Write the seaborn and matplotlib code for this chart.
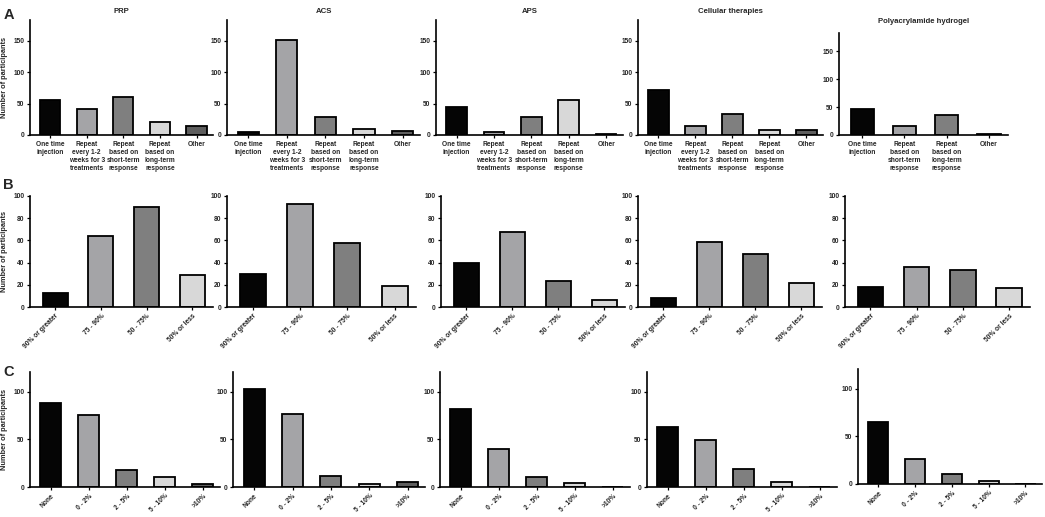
import matplotlib
matplotlib.use("Agg")
import matplotlib.pyplot as plt
import seaborn as sns
import pandas as pd

sns.set_theme(style="white")
plt.rcParams['font.family'] = ['Liberation Sans', 'DejaVu Sans']
plt.rcParams['font.weight'] = 'bold'

# ---------------- data ----------------
titles = ["PRP", "ACS", "APS", "Cellular therapies", "Polyacrylamide hydrogel"]

freq_cats = ["One time\ninjection", "Repeat\nevery 1-2\nweeks for 3\ntreatments",
             "Repeat\nbased on\nshort-term\nresponse", "Repeat\nbased on\nlong-term\nresponse",
             "Other"]
freq_cats_pah = ["One time\ninjection", "Repeat\nbased on\nshort-term\nresponse",
                 "Repeat\nbased on\nlong-term\nresponse", "Other"]
freq_prp = [56, 41, 61, 21, 14]
freq_acs = [4, 151, 28, 9, 7]
freq_aps = [45, 4, 28, 56, 2]
freq_cell = [72, 14, 33, 8, 8]
freq_pah = [47, 16, 36, 2]

succ_cats = ["90% or greater", "75 - 90%", "50 - 75%", "50% or less"]
succ_prp = [13, 64, 90, 29]
succ_acs = [30, 93, 58, 19]
succ_aps = [40, 68, 23, 6]
succ_cell = [8, 59, 48, 22]
succ_pah = [18, 36, 33, 17]

comp_cats = ["None", "0 - 2%", "2 - 5%", "5 - 10%", ">10%"]
comp_prp = [88, 76, 18, 11, 3]
comp_acs = [103, 77, 12, 3, 5]
comp_aps = [82, 40, 11, 4, 0]
comp_cell = [63, 49, 19, 5, 0]
comp_pah = [65, 26, 10, 3, 0]

palette = ["#050505", "#a3a3a8", "#7f7f7f", "#d8d8d8", "#5e5e5e"]

# ---------------- layout (pixels) ----------------
W, H = 1045, 517
fig = plt.figure(figsize=(W / 100, H / 100), dpi=100)


def add_ax(x0, x1, top, bottom):
    return fig.add_axes([x0 / W, 1 - bottom / H, (x1 - x0) / W, (bottom - top) / H])


rowA = [(30, 213, 20, 135), (227, 420, 20, 135), (436, 623, 20, 135),
        (638, 823, 20, 135), (839, 1008, 33, 135)]
rowB = [(30, 213, 196, 307), (227, 416, 196, 307), (441, 625, 196, 307),
        (638, 822, 196, 307), (845, 1030, 196, 307)]
rowC = [(30, 220, 372, 487), (233, 425, 372, 487), (440, 630, 372, 487),
        (647, 837, 372, 487), (858, 1042, 369, 484)]

freq_data = [(freq_cats, freq_prp), (freq_cats, freq_acs), (freq_cats, freq_aps),
             (freq_cats, freq_cell), (freq_cats_pah, freq_pah)]
succ_data = [succ_prp, succ_acs, succ_aps, succ_cell, succ_pah]
comp_data = [comp_prp, comp_acs, comp_aps, comp_cell, comp_pah]


def draw(ax, cats, vals, ylim, yticks, rot, ylabel):
    df = pd.DataFrame({"cat": cats, "val": vals})
    sns.barplot(data=df, x="cat", y="val", hue="cat", palette=palette[:len(cats)],
                edgecolor="black", linewidth=1.3, width=0.55, legend=False,
                ax=ax, order=cats, hue_order=cats)
    n = len(cats)
    ax.set_xlim(-0.55, n - 1 + 0.45)
    ax.set_ylim(*ylim)
    ax.set_yticks(yticks)
    for s in ["top", "right"]:
        ax.spines[s].set_visible(False)
    for s in ["left", "bottom"]:
        ax.spines[s].set_linewidth(1.2)
        ax.spines[s].set_color("black")
    ax.tick_params(axis="both", which="major", length=2.5, width=0.9, color="black",
                   labelsize=4.8, pad=1.5, direction="out", bottom=True, left=True)
    ax.set_xlabel("")
    if ylabel:
        ax.set_ylabel("Number of participants", fontsize=5.3, fontweight="bold", labelpad=4)
    else:
        ax.set_ylabel("")
    if rot:
        ax.set_xticks(range(n))
        ax.set_xticklabels(cats, rotation=45, ha="right", rotation_mode="anchor",
                           fontsize=4.8, fontweight="bold")
    else:
        ax.set_xticks(range(n))
        ax.set_xticklabels(cats, fontsize=4.8, fontweight="bold", linespacing=1.25,
                           va="top", ha="center")
    for lab in ax.get_yticklabels():
        lab.set_fontweight("bold")
    ax.set_facecolor("white")


for i in range(5):
    ax = add_ax(*rowA[i])
    cats, vals = freq_data[i]
    draw(ax, cats, vals, (0, 183), [0, 50, 100, 150], False, i == 0)
    ax.set_title(titles[i], fontsize=5.6, fontweight="bold", pad=7 if i == 4 else 5)

for i in range(5):
    ax = add_ax(*rowB[i])
    draw(ax, succ_cats, succ_data[i], (0, 100), [0, 20, 40, 60, 80, 100], True, i == 0)

for i in range(5):
    ax = add_ax(*rowC[i])
    draw(ax, comp_cats, comp_data[i], (0, 121), [0, 50, 100], True, i == 0)

fig.text(4 / W, 1 - 15 / H, "A", fontsize=10.5, fontweight="bold", va="center", ha="left")
fig.text(3 / W, 1 - 185 / H, "B", fontsize=10.5, fontweight="bold", va="center", ha="left")
fig.text(3 / W, 1 - 372 / H, "C", fontsize=10.5, fontweight="bold", va="center", ha="left")

fig.savefig("out.png", dpi=100, facecolor="white")
